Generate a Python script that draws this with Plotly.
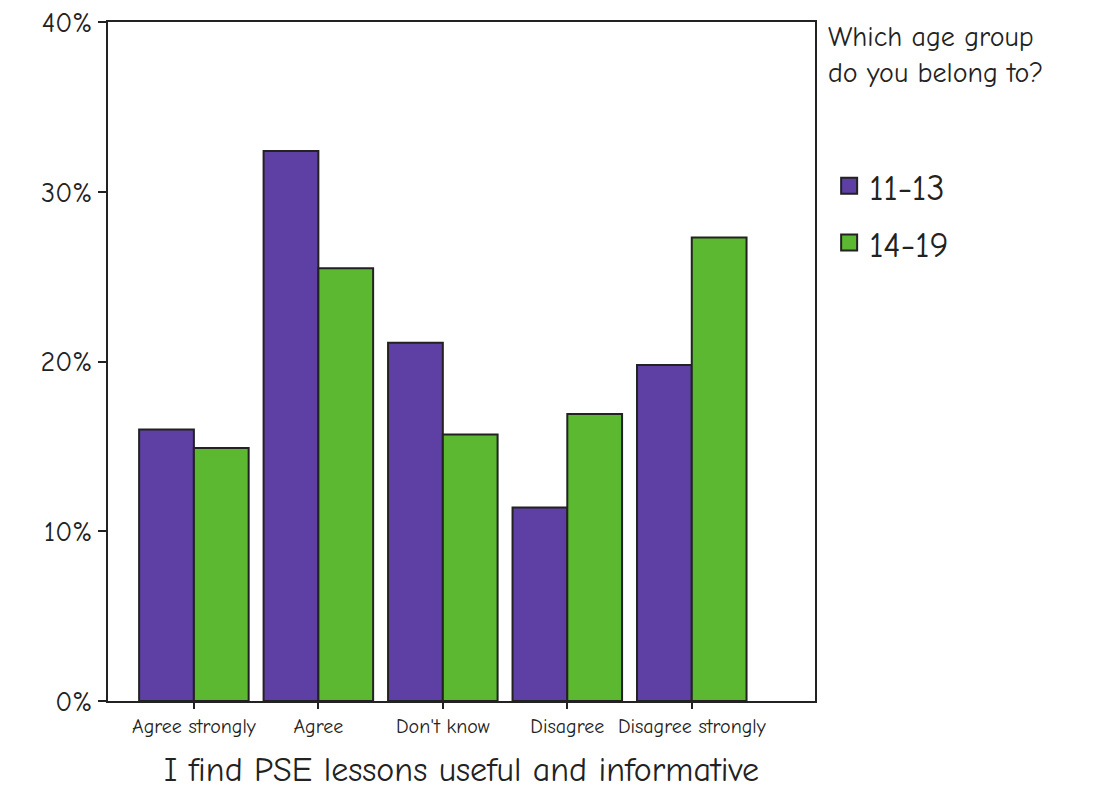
import plotly.graph_objects as go

categories = ["Agree strongly", "Agree", "Don't know", "Disagree", "Disagree strongly"]
age_11_13 = [16.0, 32.4, 21.1, 11.4, 19.8]
age_14_19 = [14.9, 25.5, 15.7, 16.9, 27.3]
series_names = ["11-13", "14-19"]
tick_vals = [0, 10, 20, 30, 40]
tick_text = ["0%", "10%", "20%", "30%", "40%"]

purple = "#5e3fa3"
green = "#5cb830"
ink = "#222222"
font = "Comic Neue, Liberation Sans, DejaVu Sans, sans-serif"
colors = [purple, green]

fig = go.Figure()
for name, vals, col in zip(series_names, [age_11_13, age_14_19], colors):
    fig.add_trace(go.Bar(x=categories, y=vals, name=name, showlegend=False,
                         marker=dict(color=col, line=dict(color=ink, width=2))))
for name, col in zip(series_names, colors):
    fig.add_trace(go.Scatter(x=[None], y=[None], mode="markers", name=name,
                             legendgroup=name,
                             marker=dict(symbol="square", size=16, color=col,
                                         line=dict(color=ink, width=2))))

fig.update_layout(
    width=1103, height=799,
    paper_bgcolor="white", plot_bgcolor="white",
    margin=dict(l=100, r=296, t=14, b=106),
    barmode="group", bargap=0.12, bargroupgap=0,
    font=dict(family=font, color=ink),
    legend=dict(
        x=1.02, y=0.803, xanchor="left", yanchor="top",
        font=dict(size=36), itemsizing="trace", tracegroupgap=7,
        bgcolor="rgba(0,0,0,0)",
    ),
    annotations=[dict(
        text="Which age group<br>do you belong to?", xref="paper", yref="paper",
        x=1.015, y=1.005, xanchor="left", yanchor="top", showarrow=False, align="left",
        font=dict(size=28),
    )],
    xaxis=dict(
        range=[-0.69, 4.99], showline=True, linecolor=ink, linewidth=2, mirror=True,
        ticks="outside", ticklen=6, tickcolor=ink, tickwidth=2,
        tickfont=dict(size=20), automargin=False,
        title=dict(text="I find PSE lessons useful and informative", font=dict(size=34), standoff=20),
    ),
    yaxis=dict(
        range=[0, 40], tickvals=tick_vals, ticktext=tick_text,
        showline=True, linecolor=ink, linewidth=2, mirror=True,
        ticks="outside", ticklen=8, tickcolor=ink, tickwidth=2,
        tickfont=dict(size=28), showgrid=False, zeroline=False, automargin=False,
        ticklabeloverflow="allow",
    ),
)

fig.write_html("out.html")
